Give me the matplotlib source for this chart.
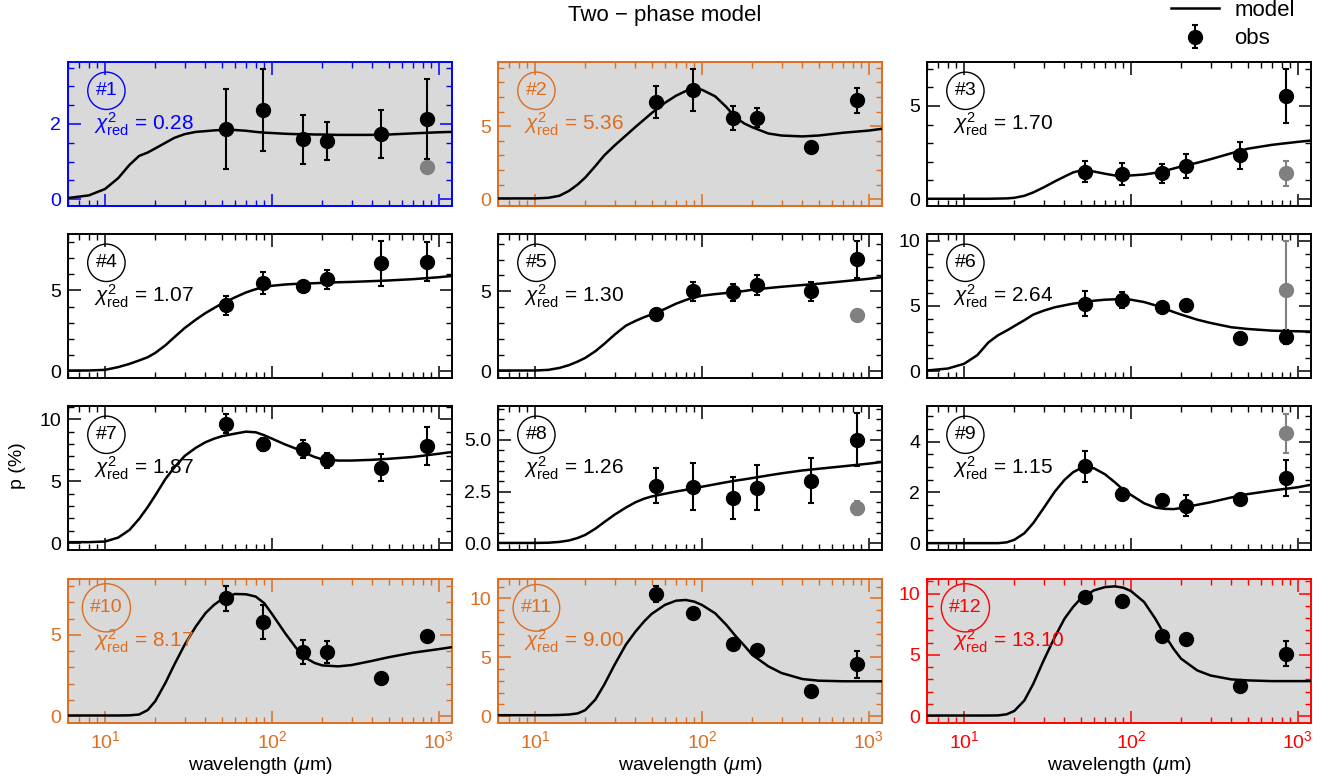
import matplotlib
matplotlib.use('Agg')
import matplotlib.pyplot as plt
from matplotlib.ticker import MultipleLocator, LogLocator, NullFormatter

plt.rcParams['font.family'] = ['Liberation Sans', 'DejaVu Sans']
plt.rcParams['mathtext.fontset'] = 'custom'
plt.rcParams['mathtext.rm'] = 'Liberation Sans'
plt.rcParams['mathtext.it'] = 'Liberation Sans:italic'
plt.rcParams['mathtext.bf'] = 'Liberation Sans:bold'

# observed wavelengths (micron)
lam_obs = [53, 89, 154, 214, 450, 850]
lam_gray = 850

# model sampling wavelengths (micron)
lam_model = [6, 8, 10, 12, 14, 16, 18, 20, 23, 26, 30, 35, 40, 45, 50, 60, 70, 80, 90, 100,
             120, 140, 160, 180, 200, 250, 300, 400, 500, 700, 1000, 1200]

model_1 = [0.03, 0.1, 0.27, 0.56, 0.91, 1.15, 1.24, 1.35, 1.5, 1.63, 1.73, 1.79, 1.81, 1.83, 1.84, 1.84,
           1.82, 1.79, 1.77, 1.76, 1.74, 1.73, 1.73, 1.72, 1.72, 1.71, 1.71, 1.71, 1.72, 1.75, 1.78, 1.79]
model_2 = [0.05, 0.05, 0.05, 0.09, 0.23, 0.57, 1.0, 1.48, 2.27, 3.0, 3.68, 4.36, 4.95, 5.45, 5.9, 6.6,
           7.09, 7.41, 7.55, 7.5, 7.05, 6.32, 5.57, 5.18, 4.93, 4.5, 4.36, 4.3, 4.36, 4.55, 4.7, 4.82]
model_3 = [0.02, 0.02, 0.02, 0.02, 0.02, 0.03, 0.04, 0.07, 0.18, 0.36, 0.63, 0.95, 1.21, 1.43, 1.54, 1.48,
           1.36, 1.27, 1.25, 1.27, 1.32, 1.41, 1.52, 1.64, 1.75, 1.95, 2.14, 2.46, 2.7, 2.91, 3.07, 3.14]
model_4 = [0.04, 0.04, 0.08, 0.25, 0.45, 0.66, 0.86, 1.13, 1.6, 2.1, 2.67, 3.19, 3.6, 3.91, 4.18, 4.57,
           4.88, 5.08, 5.21, 5.29, 5.37, 5.41, 5.43, 5.45, 5.47, 5.51, 5.53, 5.58, 5.62, 5.7, 5.82, 5.9]
model_5 = [0.04, 0.04, 0.04, 0.08, 0.2, 0.38, 0.6, 0.83, 1.25, 1.71, 2.29, 2.85, 3.15, 3.38, 3.56, 3.9,
           4.23, 4.46, 4.63, 4.73, 4.83, 4.9, 4.96, 5.03, 5.1, 5.21, 5.29, 5.4, 5.48, 5.63, 5.79, 5.9]
model_6 = [0.05, 0.2, 0.56, 1.22, 2.2, 2.75, 3.1, 3.45, 3.9, 4.33, 4.63, 4.89, 5.04, 5.17, 5.24, 5.39,
           5.47, 5.5, 5.52, 5.47, 5.29, 5.04, 4.78, 4.53, 4.33, 3.94, 3.69, 3.36, 3.23, 3.1, 3.05, 3.03]
model_7 = [0.08, 0.08, 0.13, 0.45, 1.06, 1.95, 2.9, 3.85, 5.17, 6.1, 7.03, 7.69, 8.14, 8.42, 8.62, 8.83,
           8.99, 8.94, 8.7, 8.43, 7.96, 7.61, 7.24, 6.95, 6.76, 6.66, 6.66, 6.72, 6.8, 6.95, 7.21, 7.35]
model_8 = [0.01, 0.01, 0.01, 0.02, 0.06, 0.13, 0.25, 0.4, 0.7, 1.02, 1.38, 1.72, 1.98, 2.15, 2.26, 2.39,
           2.5, 2.58, 2.66, 2.73, 2.85, 2.95, 3.03, 3.09, 3.15, 3.28, 3.38, 3.52, 3.6, 3.72, 3.85, 3.93]
model_9 = [0.0, 0.0, 0.0, 0.0, 0.0, 0.0, 0.03, 0.13, 0.39, 0.79, 1.38, 2.03, 2.49, 2.79, 2.95, 2.95,
           2.71, 2.4, 2.1, 1.9, 1.57, 1.4, 1.35, 1.34, 1.38, 1.51, 1.61, 1.8, 1.93, 2.07, 2.2, 2.3]
model_10 = [0.04, 0.04, 0.04, 0.04, 0.05, 0.1, 0.37, 0.92, 2.04, 3.16, 4.39, 5.51, 6.33, 6.84, 7.18, 7.51,
            7.49, 7.35, 6.94, 6.29, 5.1, 4.18, 3.57, 3.27, 3.12, 3.06, 3.14, 3.4, 3.62, 3.9, 4.12, 4.24]
model_11 = [0.08, 0.08, 0.08, 0.08, 0.1, 0.14, 0.23, 0.51, 1.41, 2.68, 4.37, 6.06, 7.18, 8.03, 8.68, 9.44,
            9.8, 9.86, 9.72, 9.44, 8.73, 7.75, 6.76, 5.97, 5.21, 4.23, 3.66, 3.15, 3.01, 2.96, 2.96, 2.96]
model_12 = [0.05, 0.05, 0.05, 0.05, 0.05, 0.06, 0.15, 0.42, 1.28, 2.64, 4.55, 6.46, 7.96, 8.91, 9.6, 10.27,
            10.54, 10.6, 10.49, 10.22, 9.32, 7.96, 6.59, 5.5, 4.69, 3.73, 3.32, 3.0, 2.92, 2.86, 2.86, 2.86]

p_1 = [1.86, 2.37, 1.59, 1.54, 1.73, 2.14]
e_1 = [1.07, 1.1, 0.66, 0.5, 0.64, 1.06]
p_2 = [6.66, 7.5, 5.55, 5.59, 3.59, 6.77]
e_2 = [1.1, 1.45, 0.83, 0.65, 0.2, 0.88]
p_3 = [1.48, 1.36, 1.39, 1.79, 2.34, 5.54]
e_3 = [0.55, 0.58, 0.5, 0.65, 0.7, 1.45]
p_4 = [4.07, 5.47, 5.25, 5.7, 6.69, 6.79]
e_4 = [0.56, 0.67, 0.15, 0.59, 1.4, 1.2]
p_5 = [3.6, 5.0, 4.94, 5.42, 5.0, 7.02]
e_5 = [0.15, 0.6, 0.55, 0.62, 0.6, 1.15]
p_6 = [5.17, 5.47, 4.89, 5.09, 2.54, 2.6]
e_6 = [0.93, 0.6, 0.2, 0.15, 0.4, 0.55]
p_7 = [9.63, 7.96, 7.61, 6.68, 6.1, 7.82]
e_7 = [0.77, 0.55, 0.72, 0.62, 1.06, 1.53]
p_8 = [2.79, 2.74, 2.18, 2.69, 3.03, 5.0]
e_8 = [0.86, 1.15, 1.03, 1.1, 1.08, 1.28]
p_9 = [3.02, 1.94, 1.68, 1.48, 1.73, 2.56]
e_9 = [0.62, 0.15, 0.2, 0.4, 0.15, 0.7]
p_10 = [7.24, 5.78, 3.94, 3.94, 2.35, 4.9]
e_10 = [0.75, 1.04, 0.72, 0.65, 0.15, 0.25]
p_11 = [10.37, 8.79, 6.14, 5.58, 2.11, 4.39]
e_11 = [0.7, 0.2, 0.2, 0.2, 0.2, 1.17]
p_12 = [9.73, 9.4, 6.51, 6.32, 2.43, 5.1]
e_12 = [0.2, 0.2, 0.2, 0.2, 0.15, 1.03]

# extra 850 micron measurement (gray), None where absent
gray_p = [0.85, None, 1.39, None, 3.54, 6.18, None, 1.69, 4.33, None, None, None]
gray_e = [0.05, None, 0.66, None, 0.3, 3.8, None, 0.35, 0.77, None, None, None]

chi2 = ['0.28', '5.36', '1.70', '1.07', '1.30', '2.64', '1.87', '1.26', '1.15', '8.17', '9.00', '13.10']
ymax = [3.65, 9.4, 7.35, 8.5, 8.6, 10.5, 11.06, 6.64, 5.4, 8.43, 11.64, 11.2]
ymajor = [2, 5, 5, 5, 5, 5, 5, 2.5, 2, 5, 5, 5]
yminor = [0.5, 1, 1, 1, 1, 1, 1, 0.5, 0.5, 1, 1, 1]

models = [model_1, model_2, model_3, model_4, model_5, model_6,
          model_7, model_8, model_9, model_10, model_11, model_12]
obs = [p_1, p_2, p_3, p_4, p_5, p_6, p_7, p_8, p_9, p_10, p_11, p_12]
errs = [e_1, e_2, e_3, e_4, e_5, e_6, e_7, e_8, e_9, e_10, e_11, e_12]

orange = '#dd6d1f'
colors = ['blue', orange, 'k', 'k', 'k', 'k', 'k', 'k', 'k', orange, orange, 'red']
shaded = [True, True, False, False, False, False, False, False, False, True, True, True]

W, H = 1341, 781
fig = plt.figure(figsize=(W / 100, H / 100), dpi=100)

lefts = [68, 498, 927]
tops = [62, 234, 406, 579]
aw, ah = 384, 144

fs = 14
line_model = None
eb_obs = None
for i in range(12):
    r, c = divmod(i, 3)
    ax = fig.add_axes([lefts[c] / W, 1 - (tops[r] + ah) / H, aw / W, ah / H])
    col = colors[i]
    if shaded[i]:
        ax.set_facecolor('#d9d9d9')

    ln, = ax.plot(lam_model, models[i], color='k', lw=1.8, zorder=3)
    eb = ax.errorbar(lam_obs, obs[i], yerr=errs[i], fmt='o', color='k', ms=10,
                     elinewidth=1.5, capsize=2.5, capthick=1.5, zorder=4)
    if gray_p[i] is not None:
        ax.errorbar([lam_gray], [gray_p[i]], yerr=[gray_e[i]], fmt='o', color='gray', ms=10,
                    elinewidth=1.5, capsize=2.5, capthick=1.5, zorder=4)
    if i == 0:
        line_model, eb_obs = ln, eb

    ax.set_xscale('log')
    ax.set_xlim(6, 1200)
    ax.set_ylim(-0.05 * ymax[i], ymax[i])
    ax.xaxis.set_major_locator(LogLocator(base=10))
    ax.xaxis.set_minor_locator(LogLocator(base=10, subs=range(2, 10)))
    ax.xaxis.set_minor_formatter(NullFormatter())
    ax.yaxis.set_major_locator(MultipleLocator(ymajor[i]))
    ax.yaxis.set_minor_locator(MultipleLocator(yminor[i]))

    ax.tick_params(which='both', direction='in', top=True, right=True, color=col,
                   labelcolor=col, labelsize=fs)
    ax.tick_params(which='major', length=9, width=1.1, pad=5)
    ax.tick_params(which='minor', length=4.5, width=1.0)
    for sp in ax.spines.values():
        sp.set_color(col)
        sp.set_linewidth(1.4)

    if r < 3:
        ax.tick_params(labelbottom=False)
    else:
        ax.set_xlabel(r'wavelength ($\mu$m)', fontsize=fs, labelpad=2)

    ax.text(0.10, 0.80, '#%d' % (i + 1), transform=ax.transAxes, ha='center', va='center',
            fontsize=fs, color=col,
            bbox=dict(boxstyle='circle,pad=0.4', fc='none', ec=col, lw=1.0))
    ax.text(0.068, 0.57, r'$\chi^2_{\rm red}$ = ' + chi2[i], transform=ax.transAxes,
            ha='left', va='center', fontsize=15, color=col)

fig.text(0.496, 1 - 15 / H, 'Two \u2212 phase model', ha='center', va='center', fontsize=16)
fig.text(18 / W, 1 - 466 / H, 'p (%)', rotation=90, ha='center', va='center', fontsize=fs)

fig.legend([line_model, eb_obs], ['model', 'obs'], loc='upper left',
           bbox_to_anchor=(1151 / W, 1 + 20 / H), frameon=False, fontsize=16,
           handlelength=2.15, handletextpad=0.7, labelspacing=0.33, borderpad=0.4)

fig.savefig('out.png', dpi=100)
